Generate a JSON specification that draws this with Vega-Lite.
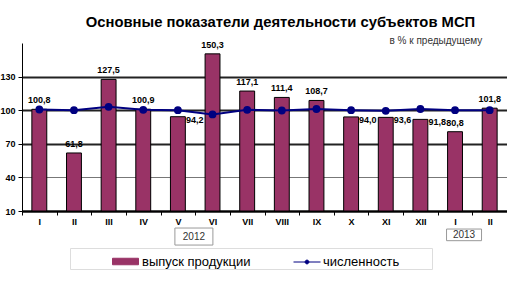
{
  "$schema": "https://vega.github.io/schema/vega-lite/v6.json",
  "autosize": "none",
  "width": 485,
  "height": 168,
  "padding": {"left": 22, "top": 43, "right": 0, "bottom": 71},
  "background": "white",
  "title": {
    "text": "Основные показатели деятельности субъектов МСП",
    "font": "Liberation Sans",
    "fontSize": 14.8,
    "fontWeight": "bold",
    "color": "black",
    "anchor": "middle",
    "frame": "group",
    "offset": 5,
    "dx": 16
  },
  "config": {
    "view": {"stroke": null},
    "locale": {"number": {"decimal": ",", "thousands": " ", "grouping": [3], "currency": ["", " руб."]}},
    "axis": {"labelFont": "Liberation Sans", "titleFont": "Liberation Sans"},
    "legend": {"labelFont": "Liberation Sans"}
  },
  "data": {
    "values": [
      {"m": "I-2012", "prod": 100.8, "num": 100.6},
      {"m": "II-2012", "prod": 61.8, "num": 100.0},
      {"m": "III-2012", "prod": 127.5, "num": 103.0},
      {"m": "IV-2012", "prod": 100.9, "num": 100.3},
      {"m": "V-2012", "prod": 94.2, "num": 100.0},
      {"m": "VI-2012", "prod": 150.3, "num": 96.2},
      {"m": "VII-2012", "prod": 117.1, "num": 100.3},
      {"m": "VIII-2012", "prod": 111.4, "num": 99.7},
      {"m": "IX-2012", "prod": 108.7, "num": 101.1},
      {"m": "X-2012", "prod": 94.0, "num": 100.0},
      {"m": "XI-2012", "prod": 93.6, "num": 99.4},
      {"m": "XII-2012", "prod": 91.8, "num": 101.1},
      {"m": "I-2013", "prod": 80.8, "num": 100.0},
      {"m": "II-2013", "prod": 101.8, "num": 100.0}
    ]
  },
  "layer": [
    {
      "mark": {"type": "bar", "width": {"band": 0.43}, "stroke": "black", "strokeWidth": 1},
      "encoding": {
        "x": {
          "field": "m",
          "type": "nominal",
          "scale": {
            "domain": ["I-2012", "II-2012", "III-2012", "IV-2012", "V-2012", "VI-2012", "VII-2012", "VIII-2012", "IX-2012", "X-2012", "XI-2012", "XII-2012", "I-2013", "II-2013"],
            "paddingInner": 0,
            "paddingOuter": 0
          },
          "axis": {
            "title": null,
            "labelExpr": "split(datum.label, '-')[0]",
            "labelAngle": 0,
            "labelFontSize": 9,
            "labelFontWeight": "bold",
            "labelColor": "black",
            "labelPadding": 2,
            "domainColor": "black",
            "domainWidth": 2,
            "tickColor": "black",
            "tickSize": 4,
            "tickBand": "extent",
            "grid": false
          }
        },
        "y": {
          "field": "prod",
          "type": "quantitative",
          "scale": {"domain": [10, 160], "nice": false, "zero": false},
          "axis": {
            "values": [10, 40, 70, 100, 130],
            "title": "в % к предыдущему",
            "titleAngle": 0,
            "titleX": 367,
            "titleY": -3,
            "titleAlign": "left",
            "titleBaseline": "middle",
            "titleFontSize": 10,
            "titleFontWeight": "normal",
            "titleColor": "#333333",
            "labelFontSize": 9,
            "labelFontWeight": "bold",
            "labelColor": "black",
            "labelPadding": 3,
            "domainColor": "black",
            "tickColor": "black",
            "tickSize": 4,
            "grid": true,
            "gridColor": {"condition": {"test": "datum.value === 40", "value": "#777777"}, "value": "#222222"},
            "gridWidth": {"condition": {"test": "datum.value === 40", "value": 1}, "value": 2}
          }
        },
        "y2": {"datum": 10},
        "fill": {
          "datum": "выпуск продукции",
          "scale": {"domain": ["выпуск продукции"], "range": ["#993366"]},
          "legend": {
            "title": "\u00a0",
            "titleOrient": "right",
            "titlePadding": 182,
            "titleFontSize": 13,
            "orient": "none",
            "direction": "horizontal",
            "legendX": 48,
            "legendY": 205,
            "padding": 0,
            "strokeColor": "#dddddd",
            "symbolOffset": 42,
            "symbolSize": 676,
            "symbolType": "M-1,-0.25H1V0.25H-1Z",
            "symbolStrokeColor": "#993366",
            "symbolStrokeWidth": 1,
            "labelFontSize": 13,
            "labelColor": "black",
            "labelOffset": 3
          }
        }
      }
    },
    {
      "mark": {"type": "line", "strokeWidth": 2, "point": {"filled": true, "size": 34, "fill": "#000080", "stroke": "#000080"}},
      "encoding": {
        "x": {"field": "m", "type": "nominal"},
        "y": {"field": "num", "type": "quantitative"},
        "stroke": {
          "datum": "численность",
          "scale": {"domain": ["численность"], "range": ["#000080"]},
          "legend": {
            "title": null,
            "orient": "none",
            "direction": "horizontal",
            "legendX": 271,
            "legendY": 205,
            "padding": 0,
            "symbolSize": 729,
            "symbolType": "M-1,0H1M-0.14,0A0.14,0.14,0,1,1,0.14,0A0.14,0.14,0,1,1,-0.14,0Z",
            "symbolFillColor": "#000080",
            "symbolStrokeColor": "#000080",
            "symbolStrokeWidth": 1,
            "labelFontSize": 13,
            "labelColor": "black",
            "labelOffset": 2
          }
        }
      }
    },
    {
      "transform": [{"filter": "datum.prod < 90 || datum.prod > 97"}],
      "mark": {"type": "text", "dy": -9, "font": "Liberation Sans", "fontSize": 9, "fontWeight": "bold", "color": "black"},
      "encoding": {
        "x": {"field": "m", "type": "nominal"},
        "y": {"field": "prod", "type": "quantitative"},
        "text": {"field": "prod", "type": "quantitative", "format": ".1f"}
      }
    },
    {
      "transform": [{"filter": "datum.prod >= 90 && datum.prod <= 97"}],
      "mark": {"type": "text", "align": "left", "dx": 8, "dy": 3, "font": "Liberation Sans", "fontSize": 9, "fontWeight": "bold", "color": "black"},
      "encoding": {
        "x": {"field": "m", "type": "nominal"},
        "y": {"field": "prod", "type": "quantitative"},
        "text": {"field": "prod", "type": "quantitative", "format": ".1f"}
      }
    },
    {
      "data": {"values": [{"year": "2012", "m": "V-2012"}]},
      "layer": [
        {
          "mark": {"type": "bar", "width": 38, "xOffset": 16, "fill": "white", "stroke": "#999999", "strokeWidth": 1},
          "encoding": {
            "x": {"field": "m", "type": "nominal"},
            "y": {"datum": -5.2},
            "y2": {"datum": -20.4}
          }
        },
        {
          "mark": {"type": "text", "dx": 16, "font": "Liberation Sans", "fontSize": 10, "color": "#333333"},
          "encoding": {
            "x": {"field": "m", "type": "nominal"},
            "y": {"datum": -12.8},
            "text": {"field": "year"}
          }
        }
      ]
    },
    {
      "data": {"values": [{"year": "2013", "m": "I-2013"}]},
      "layer": [
        {
          "mark": {"type": "bar", "width": 35, "xOffset": 9, "fill": "white", "stroke": "#999999", "strokeWidth": 1},
          "encoding": {
            "x": {"field": "m", "type": "nominal"},
            "y": {"datum": -6.1},
            "y2": {"datum": -16.5}
          }
        },
        {
          "mark": {"type": "text", "dx": 9, "font": "Liberation Sans", "fontSize": 10, "color": "#333333"},
          "encoding": {
            "x": {"field": "m", "type": "nominal"},
            "y": {"datum": -11.3},
            "text": {"field": "year"}
          }
        }
      ]
    }
  ]
}
